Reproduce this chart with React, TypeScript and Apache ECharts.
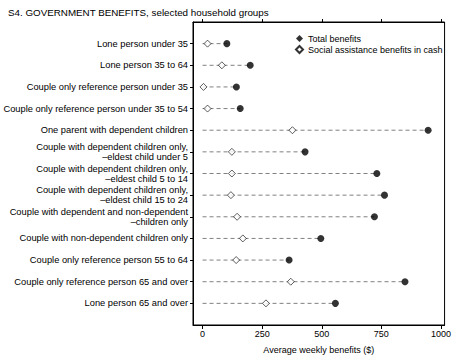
import React, { useEffect, useRef } from "react";
import * as echarts from "echarts";

const categories = [
  "Lone person under 35",
  "Lone person 35 to 64",
  "Couple only reference person under 35",
  "Couple only reference person under 35 to 54",
  "One parent with dependent children",
  "Couple with dependent children only,\n–eldest child under 5",
  "Couple with dependent children only,\n–eldest child 5 to 14",
  "Couple with dependent children only,\n–eldest child 15 to 24",
  "Couple with dependent and non-dependent\n–children only",
  "Couple with non-dependent children only",
  "Couple only reference person 55 to 64",
  "Couple only reference person 65 and over",
  "Lone person 65 and over",
];
const totalBenefits = [102, 200, 142, 158, 946, 430, 731, 763, 721, 496, 363, 849, 557];
const socialAssistance = [21, 81, 4, 21, 377, 123, 123, 119, 145, 169, 141, 370, 266];
const xTicks = [0, 250, 500, 750, 1000];
const rowPositions = categories.map((_, i) => i + 1);

const FONT = "'Liberation Sans', Arial, sans-serif";

export default function App() {
  const ref = useRef<HTMLDivElement>(null);
  useEffect(() => {
    if (!ref.current) return;
    const chart = echarts.init(ref.current, null, { renderer: "svg" });
    chart.setOption({
      animation: false,
      backgroundColor: "#fff",
      title: {
        text: "S4. GOVERNMENT BENEFITS, selected household groups",
        left: 3,
        top: 2,
        textStyle: { fontFamily: FONT, fontSize: 9.8, fontWeight: "normal", color: "#000" },
      },
      legend: {
        orient: "vertical",
        left: 290,
        top: 29,
        itemWidth: 7,
        itemHeight: 7,
        itemGap: 2,
        data: [
          { name: "Total benefits", icon: "diamond" },
          { name: "Social assistance benefits in cash", icon: "diamond" },
        ],
        textStyle: { fontFamily: FONT, fontSize: 9, color: "#000" },
      },
      grid: {
        left: 193,
        right: 9,
        top: 22,
        bottom: 32,
        show: true,
        borderColor: "#000",
        borderWidth: 1,
        backgroundColor: "transparent",
      },
      xAxis: [
        {
          type: "value",
          min: -40,
          max: 1015,
          position: "bottom",
          axisLine: { show: true, onZero: false, lineStyle: { color: "#000" } },
          axisTick: { show: true, length: 4, customValues: xTicks, lineStyle: { color: "#000" } },
          axisLabel: {
            customValues: xTicks,
            formatter: (v: number) => String(v),
            fontFamily: FONT,
            fontSize: 9,
            color: "#000",
            margin: 4,
          },
          splitLine: { show: false },
          name: "Average weekly benefits ($)",
          nameLocation: "middle",
          nameGap: 20,
          nameTextStyle: { fontFamily: FONT, fontSize: 9, color: "#000" },
        },
        {
          type: "value",
          min: -40,
          max: 1015,
          position: "top",
          axisLine: { show: true, onZero: false, lineStyle: { color: "#000" } },
          axisTick: { show: true, length: 3, customValues: xTicks, lineStyle: { color: "#000" } },
          axisLabel: { show: false },
          splitLine: { show: false },
        },
      ],
      yAxis: {
        type: "value",
        min: 0,
        max: 14,
        inverse: true,
        axisLine: { show: true, onZero: false, lineStyle: { color: "#000" } },
        axisTick: { show: true, length: 3, customValues: rowPositions, lineStyle: { color: "#000" } },
        axisLabel: {
          customValues: rowPositions,
          formatter: (v: number) => categories[Math.round(v) - 1] ?? "",
          fontFamily: FONT,
          fontSize: 9.3,
          lineHeight: 10,
          color: "#000",
          margin: 5,
          align: "right",
        },
        splitLine: { show: false },
      },
      series: [
        {
          type: "custom",
          xAxisIndex: 0,
          silent: true,
          data: totalBenefits.map((v, i) => [v, rowPositions[i]]),
          encode: { x: 0, y: 1 },
          renderItem: (params: any, api: any) => {
            const x = api.value(0);
            const y = api.value(1);
            const p0 = api.coord([0, y]);
            const p1 = api.coord([x, y]);
            return {
              type: "line",
              shape: { x1: p0[0], y1: p0[1], x2: p1[0], y2: p1[1] },
              style: { stroke: "#808080", lineWidth: 1, lineDash: [4, 3] },
            };
          },
          z: 1,
        },
        {
          name: "Total benefits",
          type: "scatter",
          xAxisIndex: 0,
          symbol: "circle",
          symbolSize: 7,
          itemStyle: { color: "#000" },
          data: totalBenefits.map((v, i) => [v, rowPositions[i]]),
          z: 3,
        },
        {
          name: "Social assistance benefits in cash",
          type: "scatter",
          xAxisIndex: 0,
          symbol: "diamond",
          symbolSize: 7,
          itemStyle: { color: "#fff", borderColor: "#000", borderWidth: 0.8 },
          data: socialAssistance.map((v, i) => [v, rowPositions[i]]),
          z: 4,
        },
      ],
    });
    return () => chart.dispose();
  }, []);
  return <div ref={ref} style={{ width: 454, height: 359, position: "absolute", left: 0, top: 0 }} />;
}
